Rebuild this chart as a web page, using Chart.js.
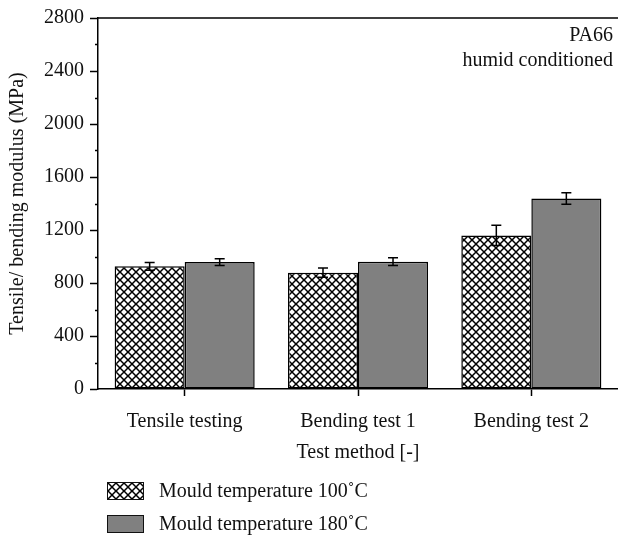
<!DOCTYPE html>
<html>
<head>
<meta charset="utf-8">
<script src="https://cdn.jsdelivr.net/npm/chart.js@4.4.1/dist/chart.umd.min.js"></script>
<style>
  html, body { margin: 0; padding: 0; background: #fff; }
  #wrap { position: relative; width: 618px; height: 539px; }
  #legend { position: absolute; left: 107px; top: 474px; font: 20px "Liberation Serif", serif; color: #111; }
  .item { display: flex; align-items: center; height: 33px; }
  .item canvas { border: 1px solid #111; box-sizing: border-box; margin-right: 15px; }
</style>
</head>
<body>
<div id="wrap">
  <canvas id="chart" width="618" height="539"></canvas>
  <div id="legend"></div>
</div>
<script>
/* categories and readings */
const methods = ['Tensile testing', 'Bending test 1', 'Bending test 2'];
const seriesNames = ['Mould temperature 100˚C', 'Mould temperature 180˚C'];
const modulus100 = [926, 878, 1159];
const error100   = [29, 35, 76];
const modulus180 = [958, 961, 1438];
const error180   = [25, 29, 44];
const noteLines  = ['PA66', 'humid conditioned'];

const FONT = '"Liberation Serif", serif';

/* cross-hatch fill used for the 100˚C bars */
function hatchPattern(ctx) {
  const tile = document.createElement('canvas');
  tile.width = 8; tile.height = 8;
  const t = tile.getContext('2d');
  t.fillStyle = '#fff';
  t.fillRect(0, 0, 8, 8);
  t.strokeStyle = '#000';
  t.lineWidth = 1.5;
  t.beginPath();
  t.moveTo(-2, -2); t.lineTo(10, 10);
  t.moveTo(-2, 10); t.lineTo(10, -2);
  t.stroke();
  return ctx.createPattern(tile, 'repeat');
}

const canvas = document.getElementById('chart');
const ctx = canvas.getContext('2d');
const hatch = hatchPattern(ctx);

/* error bars drawn from the dataset's own bar elements */
const errorBars = {
  id: 'errorBars',
  afterDatasetsDraw(chart) {
    const c = chart.ctx;
    const y = chart.scales.y;
    c.save();
    c.strokeStyle = '#000';
    c.lineWidth = 1.5;
    chart.data.datasets.forEach((ds, di) => {
      chart.getDatasetMeta(di).data.forEach((bar, i) => {
        const v = ds.data[i], e = ds.errors[i];
        const top = y.getPixelForValue(v + e);
        const bot = y.getPixelForValue(v - e);
        c.beginPath();
        c.moveTo(bar.x, top); c.lineTo(bar.x, bot);
        c.moveTo(bar.x - 5, top); c.lineTo(bar.x + 5, top);
        c.moveTo(bar.x - 5, bot); c.lineTo(bar.x + 5, bot);
        c.stroke();
      });
    });
    c.restore();
  }
};

/* frame line on top, short minor ticks on the y axis, and the note text */
const extras = {
  id: 'extras',
  afterDraw(chart) {
    const c = chart.ctx;
    const { left, right, top } = chart.chartArea;
    const y = chart.scales.y;
    c.save();
    c.strokeStyle = '#000';
    c.lineWidth = 1.5;
    c.beginPath();
    c.moveTo(left, top); c.lineTo(right, top);
    for (let v = 200; v < 2800; v += 400) {
      const py = Math.round(y.getPixelForValue(v)) + 0.5;
      c.moveTo(left - 3, py); c.lineTo(left, py);
    }
    c.stroke();
    c.fillStyle = '#111';
    c.font = '20px ' + FONT;
    c.textAlign = 'right';
    c.textBaseline = 'alphabetic';
    noteLines.forEach((s, i) => c.fillText(s, right - 5, top + 23 + i * 25));
    c.restore();
  }
};

new Chart(ctx, {
  type: 'bar',
  data: {
    labels: methods,
    datasets: [
      {
        label: seriesNames[0],
        data: modulus100,
        errors: error100,
        backgroundColor: hatch,
        borderColor: '#000',
        borderWidth: 1.5,
        borderSkipped: false
      },
      {
        label: seriesNames[1],
        data: modulus180,
        errors: error180,
        backgroundColor: '#808080',
        borderColor: '#000',
        borderWidth: 1.5,
        borderSkipped: false
      }
    ]
  },
  options: {
    responsive: false,
    animation: false,
    layout: { padding: { left: 0, right: 0, top: 16, bottom: 72 } },
    plugins: {
      legend: { display: false },
      tooltip: { enabled: false }
    },
    datasets: {
      bar: { categoryPercentage: 0.808, barPercentage: 1 }
    },
    scales: {
      x: {
        afterFit: (s) => { s.height = 78; },
        grid: {
          offset: false,
          drawOnChartArea: false,
          tickLength: 7,
          tickColor: '#000',
          tickWidth: 1.5
        },
        border: { color: '#000', width: 1.5 },
        ticks: { color: '#111', font: { family: FONT, size: 20 }, padding: 14 },
        title: {
          display: true,
          text: 'Test method [-]',
          color: '#111',
          font: { family: FONT, size: 20 },
          padding: { top: 0, bottom: 2 }
        }
      },
      y: {
        min: 0,
        max: 2800,
        afterFit: (s) => { s.width = 98; },
        grid: {
          drawOnChartArea: false,
          tickLength: 8,
          tickColor: '#000',
          tickWidth: 1.5
        },
        border: { color: '#000', width: 1.5 },
        ticks: {
          stepSize: 400,
          color: '#111',
          font: { family: FONT, size: 20 },
          padding: 6,
          callback: (v) => String(v)
        },
        title: {
          display: true,
          text: 'Tensile/ bending modulus (MPa)',
          color: '#111',
          font: { family: FONT, size: 20 },
          padding: { top: 6, bottom: 0 }
        }
      }
    }
  },
  plugins: [errorBars, extras]
});

/* legend built from the same series names and fills */
const legend = document.getElementById('legend');
seriesNames.forEach((name, i) => {
  const row = document.createElement('div');
  row.className = 'item';
  const sw = document.createElement('canvas');
  sw.width = 35; sw.height = 16;
  const sc = sw.getContext('2d');
  sc.fillStyle = i === 0 ? hatchPattern(sc) : '#808080';
  sc.fillRect(0, 0, 35, 16);
  const label = document.createElement('span');
  label.textContent = name;
  row.appendChild(sw);
  row.appendChild(label);
  legend.appendChild(row);
});
</script>
</body>
</html>
